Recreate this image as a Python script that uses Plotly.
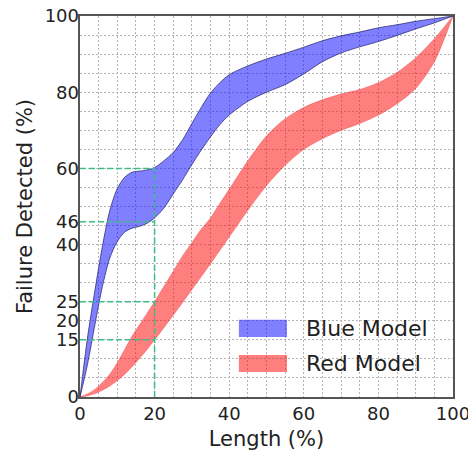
import plotly.graph_objects as go

# ---------------- data ----------------
length_pct = [0, 2, 4, 6, 8, 10, 12, 14, 16, 18, 20, 22.5, 25, 27.5, 30, 32.5, 35,
              37.5, 40, 45, 50, 55, 60, 65, 70, 75, 80, 85, 90, 95, 100]

blue_upper = [0, 15.5, 28, 39.5, 49, 54.7, 57.7, 59, 59.3, 59.6, 60.2, 62, 64.2, 67.5,
              71.8, 76, 79.8, 82.5, 84.6, 86.9, 88.7, 90.2, 91.8, 93.5, 94.8, 95.8,
              96.9, 97.7, 98.6, 99.3, 100]
blue_lower = [0, 8.5, 19, 29, 36.5, 40.8, 43.3, 44.3, 44.8, 45.6, 47, 49.6, 53.3, 57,
              61, 64.8, 68.3, 71.5, 74, 77.6, 80, 82, 84.8, 88, 90.3, 91.9, 93.3,
              94.9, 96.6, 98.2, 100]

red_upper = [0, 0.8, 2, 3.8, 6, 9, 12.5, 16, 19, 22, 25, 29, 33, 37, 40.5, 44, 47,
             50.8, 54.5, 62, 68.5, 73, 76, 78, 79.5, 80.7, 82.5, 85.2, 89, 94, 100]
red_lower = [0, 0.3, 0.9, 1.8, 2.9, 4.3, 6, 8, 10.2, 12.5, 15, 18.2, 21.5, 24.8, 28.2,
             31.6, 35, 38.5, 42, 49, 55.5, 60.8, 65, 67.8, 70, 71.8, 74, 77, 81, 88, 100]

series_names = ["Blue Model", "Red Model"]

# reference (dashed) guide lines
ref_length = 20
ref_levels = [60, 46, 25, 15]

x_ticks = [0, 20, 40, 60, 80, 100]
y_ticks = [0, 15, 20, 25, 40, 46, 60, 80, 100]

# ---------------- styles ----------------
FONT = "DejaVu Sans"
BLUE_FILL = "rgba(0,0,255,0.5)"
BLUE_EDGE = "rgba(40,40,110,0.75)"
RED_FILL = "rgba(255,0,0,0.5)"
RED_EDGE = "rgba(235,70,70,0.8)"
GREEN = "rgb(60,190,135)"
GRID = "#b4b4b4"

fig = go.Figure()

# Red band
fig.add_trace(go.Scatter(x=length_pct, y=red_lower, mode="lines",
                         line=dict(color=RED_EDGE, width=0.6, shape="spline", smoothing=0.8),
                         hoverinfo="skip", showlegend=False))
fig.add_trace(go.Scatter(x=length_pct, y=red_upper, mode="lines", fill="tonexty",
                         fillcolor=RED_FILL, name=series_names[1],
                         line=dict(color=RED_EDGE, width=0.6, shape="spline", smoothing=0.8),
                         showlegend=False))
# Blue band
fig.add_trace(go.Scatter(x=length_pct, y=blue_lower, mode="lines",
                         line=dict(color=BLUE_EDGE, width=1, shape="spline", smoothing=0.8),
                         hoverinfo="skip", showlegend=False))
fig.add_trace(go.Scatter(x=length_pct, y=blue_upper, mode="lines", fill="tonexty",
                         fillcolor=BLUE_FILL, name=series_names[0],
                         line=dict(color=BLUE_EDGE, width=1, shape="spline", smoothing=0.8),
                         showlegend=False))

# dashed guide lines (on overlaying y2 so they sit on top)
for lvl in ref_levels:
    fig.add_trace(go.Scatter(x=[0, ref_length], y=[lvl, lvl], mode="lines", yaxis="y2",
                             line=dict(color=GREEN, width=1.5, dash="6px,3px"),
                             hoverinfo="skip", showlegend=False))
fig.add_trace(go.Scatter(x=[ref_length, ref_length], y=[0, max(ref_levels)], mode="lines",
                         yaxis="y2", line=dict(color=GREEN, width=1.5, dash="6px,3px"),
                         hoverinfo="skip", showlegend=False))

fig.update_layout(
    width=468, height=449,
    margin=dict(l=72, r=23, t=8, b=60),
    plot_bgcolor="white", paper_bgcolor="white",
    showlegend=False,
    font=dict(family=FONT, color="#222"),
    xaxis=dict(range=[0, 100], tickvals=x_ticks, ticks="", showgrid=True,
               gridcolor=GRID, griddash="2px,2px", gridwidth=1,
               minor=dict(dtick=5, tick0=0, showgrid=True, gridcolor=GRID,
                          griddash="2px,2px", gridwidth=1, ticks=""),
               zeroline=False, showline=True, mirror=True, linecolor="#555", linewidth=1.5,
               tickfont=dict(size=18, family=FONT, color="#222"),
               ticklabeloverflow="allow",
               title=dict(text="Length (%)", font=dict(size=21, family=FONT, color="#222"),
                          standoff=8),
               automargin=False),
    yaxis=dict(range=[0, 100], dtick=5, tick0=0, showticklabels=False, ticks="",
               showgrid=True, gridcolor=GRID, griddash="2px,2px", gridwidth=1,
               zeroline=False, showline=True, mirror=True, linecolor="#555", linewidth=1.5,
               automargin=False),
    yaxis2=dict(range=[0, 100], overlaying="y", side="left", anchor="x",
                tickvals=y_ticks, ticks="", showgrid=False, zeroline=False, showline=False,
                tickfont=dict(size=18, family=FONT, color="#222"),
                ticklabeloverflow="allow",
                title=dict(text="Failure Detected (%)",
                           font=dict(size=21, family=FONT, color="#222"), standoff=6),
                automargin=False),
)

# legend (drawn manually to get wide matplotlib-like patches)
legend_rows = [(series_names[0], BLUE_FILL, 0.180), (series_names[1], RED_FILL, 0.088)]
for name, col, yc in legend_rows:
    fig.add_shape(type="rect", xref="paper", yref="paper",
                  x0=0.426, x1=0.555, y0=yc - 0.0225, y1=yc + 0.0225,
                  fillcolor=col, line=dict(width=0), layer="above")
    fig.add_annotation(text=name, xref="paper", yref="paper", x=0.600, y=yc,
                       xanchor="left", yanchor="middle", showarrow=False,
                       font=dict(size=22, family=FONT, color="#222"))

fig.write_html("out.html")
